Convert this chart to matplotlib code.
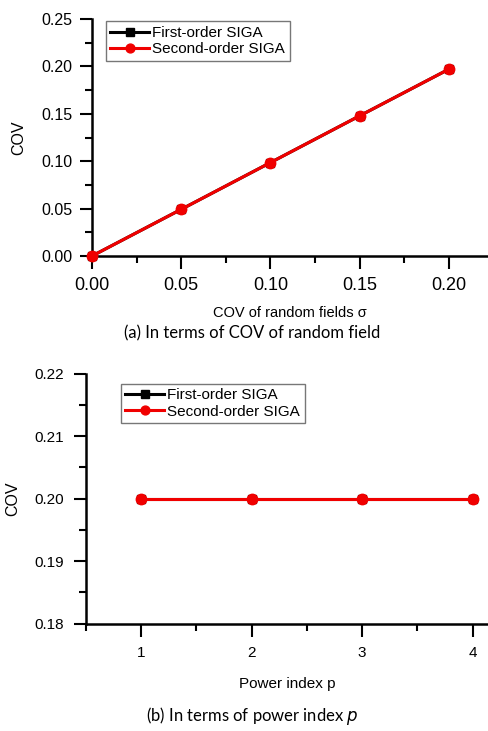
import matplotlib
matplotlib.use("Agg")
import matplotlib.pyplot as plt
from matplotlib.ticker import MultipleLocator, FormatStrFormatter

plt.rcParams['font.family'] = ['Liberation Sans', 'DejaVu Sans']

# (a) COV of random field
sigma = [0.00, 0.05, 0.10, 0.15, 0.20]
cov_first_a = [0.0, 0.0492, 0.0985, 0.1478, 0.1970]
cov_second_a = [0.0, 0.0492, 0.0985, 0.1478, 0.1970]

# (b) power index
p_index = [1, 2, 3, 4]
cov_first_b = [0.2000, 0.2000, 0.2000, 0.2000]
cov_second_b = [0.1999, 0.1999, 0.1999, 0.1999]

labels = ["First-order SIGA", "Second-order SIGA"]

fig = plt.figure(figsize=(4.88, 7.31), dpi=100)


def style_axes(ax):
    for s in ['top', 'right']:
        ax.spines[s].set_visible(False)
    for s in ['left', 'bottom']:
        ax.spines[s].set_linewidth(1.8)
    ax.tick_params(which='major', direction='out', length=9, width=1.5)
    ax.tick_params(which='minor', direction='out', length=5, width=1.5)


def draw(ax, x, y1, y2, anchor):
    ax.plot(x, y1, color='black', lw=2.2, marker='s', ms=6, label=labels[0],
            clip_on=False, zorder=3)
    ax.plot(x, y2, color='#f00000', lw=2.2, marker='o', ms=7.5, label=labels[1],
            clip_on=False, zorder=4)
    leg = ax.legend(loc='upper left', bbox_to_anchor=anchor, fontsize=11,
                    frameon=True, fancybox=False, handlelength=2.5,
                    handletextpad=0.25, borderpad=0.3, labelspacing=0.15,
                    markerscale=0.85, borderaxespad=0)
    leg.get_frame().set_edgecolor('#555555')
    leg.get_frame().set_linewidth(1.0)
    return leg


# top panel
ax1 = fig.add_axes([0.1885, 0.6498, 0.8115, 0.3242])
draw(ax1, sigma, cov_first_a, cov_second_a, (0.035, 0.99))
ax1.set_xlim(0, 0.222)
ax1.set_ylim(0, 0.25)
ax1.xaxis.set_major_locator(MultipleLocator(0.05))
ax1.xaxis.set_minor_locator(MultipleLocator(0.025))
ax1.yaxis.set_major_locator(MultipleLocator(0.05))
ax1.yaxis.set_minor_locator(MultipleLocator(0.025))
ax1.xaxis.set_major_formatter(FormatStrFormatter('%.2f'))
ax1.yaxis.set_major_formatter(FormatStrFormatter('%.2f'))
style_axes(ax1)
ax1.tick_params(axis='x', labelsize=13, pad=6)
ax1.tick_params(axis='y', labelsize=11.5, pad=5)
ax1.set_xlabel("COV of random fields σ", fontsize=10.5, labelpad=9)
ax1.set_ylabel("COV", fontsize=11.5, labelpad=11)
fig.text(0.517, 0.5445, "(a) In terms of COV of random field", ha='center',
         va='center', fontsize=12, family=['Lato', 'DejaVu Sans'])

# bottom panel
ax2 = fig.add_axes([0.176, 0.1468, 0.824, 0.342])
draw(ax2, p_index, cov_first_b, cov_second_b, (0.087, 0.96))
ax2.set_xlim(0.5, 4.14)
ax2.set_ylim(0.18, 0.22)
ax2.xaxis.set_major_locator(MultipleLocator(1))
ax2.xaxis.set_minor_locator(MultipleLocator(0.5))
ax2.yaxis.set_major_locator(MultipleLocator(0.01))
ax2.yaxis.set_minor_locator(MultipleLocator(0.005))
ax2.yaxis.set_major_formatter(FormatStrFormatter('%.2f'))
style_axes(ax2)
ax2.tick_params(axis='x', labelsize=11, pad=7)
ax2.tick_params(axis='y', labelsize=11, pad=7)
ax2.set_xlabel("Power index p", fontsize=11, labelpad=12)
ax2.set_ylabel("COV", fontsize=11.5, labelpad=10)
fig.text(0.517, 0.006, "(b) In terms of power index $\\it{p}$", ha='center',
         va='bottom', fontsize=12, family=['Lato', 'DejaVu Sans'])

fig.savefig("out.png", dpi=100)
